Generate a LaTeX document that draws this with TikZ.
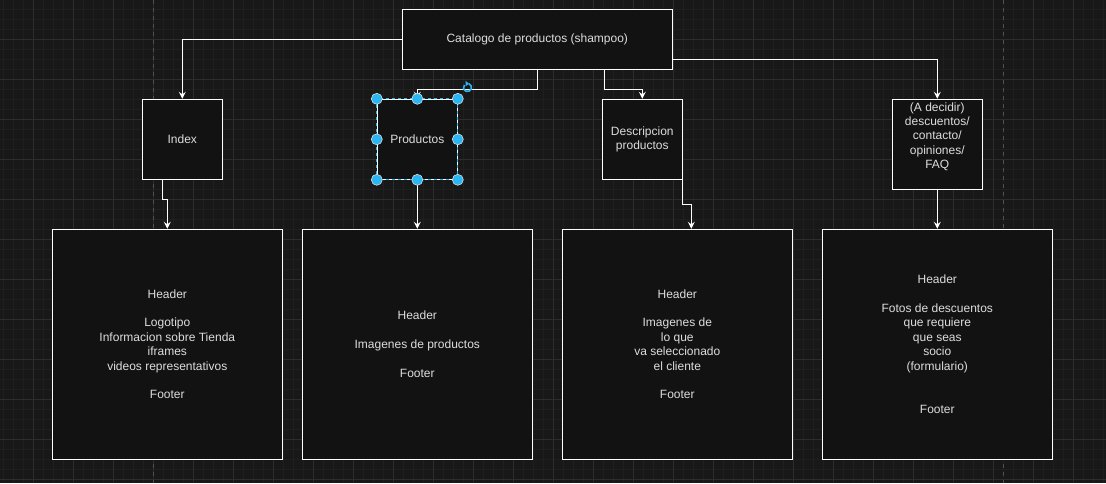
\documentclass[tikz,border=0pt]{standalone}
\usepackage{fontspec}
\setmainfont{Liberation Sans}
\usetikzlibrary{arrows.meta}
\definecolor{canvas}{HTML}{181818}
\definecolor{boxfill}{HTML}{121212}
\definecolor{minorgrid}{HTML}{1F1F1F}
\definecolor{majorgrid}{HTML}{2D2D2D}
\definecolor{pageline}{HTML}{505050}
\definecolor{labeltext}{HTML}{DDDDDD}
\definecolor{handleblue}{HTML}{29B6F2}
\newcommand{\boxfont}{\fontsize{12}{14.4}\selectfont}

\begin{document}
\begin{tikzpicture}[x=1pt,y=-1pt,every path/.append style={line width=1pt},
	page/.style={draw=white,fill=boxfill,inner sep=0pt,text=labeltext,align=center,font=\boxfont},
	flow/.style={draw=white,-{Stealth[length=7pt,width=7pt,inset=2.5pt]}},
	minorline/.style={draw=minorgrid},
	majorline/.style={draw=majorgrid},
	pagebreak/.style={draw=pageline,dash pattern=on 4pt off 4pt},
	selection/.style={draw=handleblue,dash pattern=on 3pt off 3pt},
	handle/.style={fill=handleblue,draw=labeltext,line width=0.6pt}]
\useasboundingbox (0,0) rectangle (1106,483);
\fill[canvas] (0,0) rectangle (1106,483);
% grid
\foreach \gx in {3,13,...,1103} \draw[minorline] (\gx,0) -- (\gx,483);
\foreach \gy in {9,19,...,479} \draw[minorline] (0,\gy) -- (1106,\gy);
\foreach \gx in {33,73,...,1073} \draw[majorline] (\gx,0) -- (\gx,483);
\foreach \gy in {39,79,...,479} \draw[majorline] (0,\gy) -- (1106,\gy);
\draw[pagebreak] (153,0) -- (153,483);
\draw[pagebreak] (1003,0) -- (1003,483);
% pages
\node(cat) [page,minimum width=270pt,minimum height=60pt] at (537.3,39.3) {Catalogo de productos (shampoo)};
\node(index) [page,minimum size=80pt] at (182.3,139.3) {Index};
\node(prod) [page,minimum size=80pt] at (417.3,139.3) {Productos};
\node(desc) [page,minimum size=80pt] at (642.3,139.3) {Descripcion\\productos};
\node(dec) [page,minimum size=90pt,label={[name=declabel,text=labeltext,align=center,font=\boxfont,yshift=7.6pt]center:{(A decidir)\\descuentos/\\contacto/\\opiniones/\\FAQ}}] at (937.3,144.3) {};
\node(b1) [page,minimum size=230pt] at (167.3,344.3)
	{Header\\[14.4pt]Logotipo\\Informacion sobre Tienda\\iframes\\videos representativos\\[14.4pt]Footer};
\node(b2) [page,minimum size=230pt] at (417.3,344.3)
	{Header\\[14.4pt]Imagenes de productos\\[14.4pt]Footer};
\node(b3) [page,minimum size=230pt] at (677.3,344.3)
	{Header\\[14.4pt]Imagenes de\\lo que\\va seleccionado\\el cliente\\[14.4pt]Footer};
\node(b4) [page,minimum size=230pt] at (937.3,344.3)
	{Header\\[14.4pt]Fotos de descuentos\\que requiere\\que seas\\socio\\(formulario)\\[28.8pt]Footer};
% links
\draw[flow] (cat.west) -| (index.north);
\draw[flow] (cat.south) -- ++(0,20) -| (prod.north);
\draw[flow] ([xshift=67.5pt]cat.south) -- ++(0,20) -| (desc.north);
\draw[flow] ([yshift=-20pt]cat.east) -| (dec.north);
\draw[flow] ([xshift=-20pt]index.south) -- ++(0,20) -| (b1.north);
\draw[flow] (prod.south) -- (b2.north);
\draw[flow] (desc.south east) -- ++(0,25) -| ([xshift=14pt]b3.north);
\draw[flow] (dec.south) -- (b4.north);
% selected shape
\draw[selection] (prod.north west) rectangle (prod.south east);
\foreach \a in {north west,north,north east,west,east,south west,south,south east}
	\draw[handle] (prod.\a) circle (5.5pt);
\coordinate (rot) at (467.5,87.5);
\draw[handleblue,line width=1.6pt] (rot) ++(70:4pt) arc[start angle=70,end angle=-220,radius=4pt];
\fill[handleblue] (rot) ++(-2pt,6.8pt) -- ++(3.5pt,-3pt) -- ++(-3.5pt,-2.6pt) -- cycle;
\end{tikzpicture}
\end{document}
